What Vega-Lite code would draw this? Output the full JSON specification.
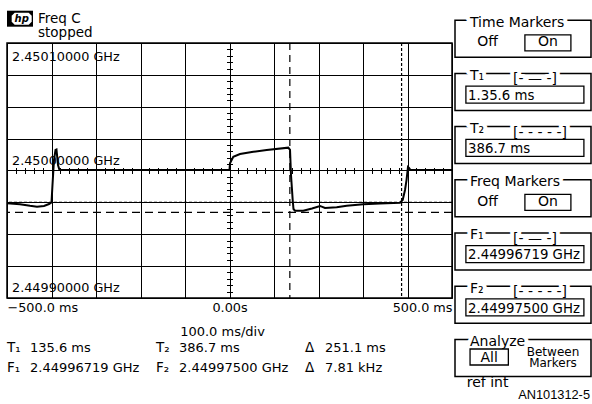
{
  "$schema": "https://vega.github.io/schema/vega-lite/v6.json",
  "padding": {"left": 2, "top": 0, "right": 0, "bottom": 0},
  "autosize": {"type": "pad"},
  "background": "white",
  "config": {
    "view": {"stroke": null},
    "font": "DejaVu Sans",
    "text": {"font": "DejaVu Sans", "color": "black"},
    "axis": {"labelFont": "DejaVu Sans", "titleFont": "DejaVu Sans", "labelColor": "black", "titleColor": "black", "minExtent": 0, "maxExtent": 0}
  },
  "bounds": "flush",
  "spacing": 10,
  "vconcat": [
    {
      "width": 445,
      "height": 33,
      "layer": [
        {
          "data": {"values": [{"logo": "hp"}]},
          "mark": {"type": "point", "shape": "M-1,-0.615L1,-0.615L1,0.615L-1,0.615Z", "size": 676, "filled": true, "color": "black", "opacity": 1, "xOffset": -209.5, "yOffset": 2.2},
          "encoding": {}
        },
        {
          "data": {"values": [{"logo": "hp"}]},
          "mark": {"type": "point", "shape": "M-0.7,-0.6L0.7,-0.6L1,-0.3L1,0.3L0.7,0.6L-0.7,0.6L-1,0.3L-1,-0.3Z", "size": 400, "filled": true, "color": "white", "opacity": 1, "xOffset": -207.8, "yOffset": 2.2},
          "encoding": {}
        },
        {
          "data": {"values": [{"logo": "hp"}]},
          "mark": {"type": "text", "text": "hp", "fontStyle": "italic", "fontWeight": "bold", "fontSize": 10, "align": "center", "baseline": "alphabetic", "dx": -207.8, "dy": 5.8, "color": "black"},
          "encoding": {}
        },
        {
          "data": {"values": [{"line": "Freq C"}, {"line": "stopped"}]},
          "mark": {"type": "text", "align": "left", "baseline": "alphabetic", "dx": -191.5, "fontSize": 13.5},
          "encoding": {
            "y": {"field": "line", "type": "nominal", "scale": {"type": "point", "domain": ["Freq C", "stopped"], "range": [22.7, 36.7], "padding": 0}, "axis": null},
            "text": {"field": "line"}
          }
        }
      ]
    },
    {
      "bounds": "flush",
      "spacing": 3,
      "hconcat": [
        {
          "width": 445,
          "height": 255,
          "view": {"stroke": "black", "strokeWidth": 1.5},
          "resolve": {"axis": {"x": "independent", "y": "independent"}},
          "layer": [
            {
              "data": {"values": [{"marker": "T1", "t": 135.6}, {"marker": "T2", "t": 386.7}]},
              "mark": {"type": "rule", "color": "black", "strokeWidth": 1.2},
              "encoding": {
                "x": {
                  "field": "t", "type": "quantitative",
                  "scale": {"domain": [-500, 500], "nice": false, "zero": false},
                  "axis": {"orient": "bottom", "offset": -130.5, "values": [-480,-460,-440,-420,-380,-360,-340,-320,-280,-260,-240,-220,-180,-160,-140,-120,-80,-60,-40,-20,20,40,60,80,120,140,160,180,220,240,260,280,320,340,360,380,420,440,460,480], "labels": false, "domain": false, "grid": false, "ticks": true, "tickSize": 6, "tickColor": "black", "tickWidth": 1, "title": null}
                },
                "strokeDash": {"field": "marker", "type": "nominal", "scale": {"domain": ["T1", "T2", "F1", "F2"], "range": [[7, 5], [3, 2], [8, 5], [3, 2]]}, "legend": null}
              }
            },
            {
              "data": {"values": [{"marker": "F1", "f": 2.44996719}, {"marker": "F2", "f": 2.449975}]},
              "mark": {"type": "rule", "color": "black", "strokeWidth": 1.2},
              "encoding": {
                "y": {
                  "field": "f", "type": "quantitative",
                  "scale": {"domain": [2.4499, 2.4501], "nice": false, "zero": false},
                  "axis": {"orient": "left", "offset": -225.5, "values": [2.449905,2.44991,2.449915,2.44992,2.44993,2.449935,2.44994,2.449945,2.449955,2.44996,2.449965,2.44997,2.44998,2.449985,2.44999,2.449995,2.450005,2.45001,2.450015,2.45002,2.45003,2.450035,2.45004,2.450045,2.450055,2.45006,2.450065,2.45007,2.45008,2.450085,2.45009,2.450095], "labels": false, "domain": false, "grid": false, "ticks": true, "tickSize": 6, "tickColor": "black", "tickWidth": 1, "title": null}
                },
                "strokeDash": {"field": "marker", "type": "nominal", "legend": null}
              }
            },
            {
              "data": {"values": [{"f": 2.4501, "label": "2.45010000 GHz"}, {"f": 2.45, "label": "2.45000000 GHz"}, {"f": 2.4499, "label": "2.44990000 GHz"}]},
              "transform": [{"filter": "datum.f > 2.45005"}],
              "mark": {"type": "text", "align": "left", "baseline": "alphabetic", "dx": 5, "dy": 17.7, "fontSize": 12.8},
              "encoding": {
                "x": {"datum": -500, "type": "quantitative", "axis": null},
                "y": {"field": "f", "type": "quantitative", "axis": null},
                "text": {"field": "label"}
              }
            },
            {
              "data": {"values": [{"f": 2.4501, "label": "2.45010000 GHz"}, {"f": 2.45, "label": "2.45000000 GHz"}, {"f": 2.4499, "label": "2.44990000 GHz"}]},
              "transform": [{"filter": "datum.f < 2.45005"}],
              "mark": {"type": "text", "align": "left", "baseline": "alphabetic", "dx": 5, "dy": -6, "fontSize": 12.8},
              "encoding": {
                "x": {"datum": -500, "type": "quantitative", "axis": null},
                "y": {"field": "f", "type": "quantitative", "axis": null},
                "text": {"field": "label"}
              }
            },
            {
              "data": {"values": [
                {"t": -500, "f": 2.4499743}, {"t": -470.8, "f": 2.4499735}, {"t": -448.3, "f": 2.4499723},
                {"t": -432.6, "f": 2.4499716}, {"t": -416.9, "f": 2.4499722}, {"t": -405.6, "f": 2.4499737},
                {"t": -400, "f": 2.4499749}, {"t": -397.8, "f": 2.4499886}, {"t": -394.4, "f": 2.4500082},
                {"t": -391, "f": 2.4500161}, {"t": -388.8, "f": 2.4500165}, {"t": -385.4, "f": 2.4500043},
                {"t": -382, "f": 2.4500003}, {"t": 0, "f": 2.4500003}, {"t": 1.1, "f": 2.4500056},
                {"t": 8.5, "f": 2.4500108}, {"t": 23.6, "f": 2.4500129}, {"t": 53.5, "f": 2.4500147},
                {"t": 83.6, "f": 2.4500161}, {"t": 132.1, "f": 2.4500179}, {"t": 136, "f": 2.4500161},
                {"t": 138.2, "f": 2.4499965}, {"t": 142, "f": 2.4499769}, {"t": 143.8, "f": 2.4499698},
                {"t": 147.2, "f": 2.4499685}, {"t": 165.8, "f": 2.4499685}, {"t": 185.4, "f": 2.4499702},
                {"t": 203.4, "f": 2.4499722}, {"t": 214.6, "f": 2.4499706}, {"t": 240.9, "f": 2.4499711},
                {"t": 263.4, "f": 2.4499724}, {"t": 300.7, "f": 2.4499735}, {"t": 338.2, "f": 2.4499741},
                {"t": 383.1, "f": 2.4499747}, {"t": 389.2, "f": 2.4499769}, {"t": 394.4, "f": 2.4499847},
                {"t": 397.8, "f": 2.4499925}, {"t": 401.1, "f": 2.4500027}, {"t": 403.4, "f": 2.450002},
                {"t": 406.7, "f": 2.4500003}, {"t": 500, "f": 2.4500003}
              ]},
              "mark": {"type": "line", "color": "black", "strokeWidth": 2},
              "encoding": {
                "x": {
                  "field": "t", "type": "quantitative",
                  "axis": {"orient": "bottom", "values": [-500,-400,-300,-200,-100,0,100,200,300,400,500], "grid": true, "gridColor": "black", "gridWidth": 1, "gridOpacity": 1, "ticks": false, "tickSize": 0, "domain": false, "labelExpr": "datum.value == -500 ? '−500.0 ms' : (datum.value == 0 ? '0.00s' : (datum.value == 500 ? '500.0 ms' : ''))", "labelFlush": true, "labelOverlap": false, "labelFontSize": 12.8, "labelPadding": 3, "title": "100.0 ms/div", "titleFontSize": 13, "titleFontWeight": "normal", "titleX": 215, "titleY": 37, "titleBaseline": "alphabetic", "titleAlign": "center", "titleAnchor": null}
                },
                "y": {
                  "field": "f", "type": "quantitative",
                  "axis": {"orient": "left", "values": [2.4499,2.449925,2.44995,2.449975,2.45,2.450025,2.45005,2.450075,2.4501], "grid": true, "gridColor": "black", "gridWidth": 1, "gridOpacity": 1, "labels": false, "ticks": false, "tickSize": 0, "labelPadding": 0, "domain": false, "title": null}
                }
              }
            }
          ]
        },
        {
          "width": 136,
          "height": 255,
          "data": {"values": [
            {"panel": "TM", "title": "Time Markers", "kind": "switch"},
            {"panel": "T1", "title": "T₁", "kind": "value", "bracket": "[-  —  -]", "value": "1.35.6 ms"},
            {"panel": "T2", "title": "T₂", "kind": "value", "bracket": "[- - - - -]", "value": "386.7 ms"},
            {"panel": "FM", "title": "Freq Markers", "kind": "switch"},
            {"panel": "F1", "title": "F₁", "kind": "value", "bracket": "[-  —  -]", "value": "2.44996719 GHz"},
            {"panel": "F2", "title": "F₂", "kind": "value", "bracket": "[- - - - -]", "value": "2.44997500 GHz"},
            {"panel": "AN", "title": "Analyze", "kind": "analyze"}
          ]},
          "layer": [
            {
              "mark": {"type": "rect", "fill": "white", "stroke": "black", "strokeWidth": 1.5},
              "encoding": {"y": {"field": "panel", "type": "nominal", "scale": {"type": "band", "domain": ["TM", "T1", "T2", "FM", "F1", "F2", "AN"], "range": [-22.8, 333.4], "paddingInner": 0.3045, "paddingOuter": 0}, "axis": null}}
            },
            {
              "mark": {"type": "text", "align": "left", "baseline": "alphabetic", "dx": -53, "dy": 6.5, "fontSize": 14, "fill": "white", "stroke": "white", "strokeWidth": 8, "strokeJoin": "round"},
              "encoding": {"y": {"field": "panel", "type": "nominal", "bandPosition": 0, "axis": null}, "text": {"field": "title"}}
            },
            {
              "mark": {"type": "text", "align": "left", "baseline": "alphabetic", "dx": -53, "dy": 6.5, "fontSize": 14},
              "encoding": {"y": {"field": "panel", "type": "nominal", "bandPosition": 0, "axis": null}, "text": {"field": "title"}}
            },
            {
              "transform": [{"filter": "datum.kind == 'value'"}],
              "mark": {"type": "text", "align": "left", "baseline": "alphabetic", "dx": -10, "dy": 10, "fontSize": 14, "fill": "white", "stroke": "white", "strokeWidth": 8, "strokeJoin": "round"},
              "encoding": {"y": {"field": "panel", "type": "nominal", "bandPosition": 0, "axis": null}, "text": {"field": "bracket"}}
            },
            {
              "transform": [{"filter": "datum.kind == 'value'"}],
              "mark": {"type": "text", "align": "left", "baseline": "alphabetic", "dx": -10, "dy": 10, "fontSize": 14},
              "encoding": {"y": {"field": "panel", "type": "nominal", "bandPosition": 0, "axis": null}, "text": {"field": "bracket"}}
            },
            {
              "transform": [{"filter": "datum.kind == 'value'"}],
              "mark": {"type": "point", "shape": "M-1,-0.144L1,-0.144L1,0.144L-1,0.144Z", "size": 13924, "filled": false, "color": "black", "strokeWidth": 1.3, "opacity": 1, "xOffset": 1.9, "yOffset": 21.2},
              "encoding": {"y": {"field": "panel", "type": "nominal", "bandPosition": 0, "axis": null}}
            },
            {
              "transform": [{"filter": "datum.kind == 'value'"}],
              "mark": {"type": "text", "align": "left", "baseline": "alphabetic", "dx": -55, "dy": 26.4, "fontSize": 13.3},
              "encoding": {"y": {"field": "panel", "type": "nominal", "bandPosition": 0, "axis": null}, "text": {"field": "value"}}
            },
            {
              "transform": [{"filter": "datum.kind == 'switch'"}],
              "mark": {"type": "text", "text": "Off", "align": "center", "baseline": "alphabetic", "dx": -35.5, "dy": 25.8, "fontSize": 14},
              "encoding": {"y": {"field": "panel", "type": "nominal", "bandPosition": 0, "axis": null}}
            },
            {
              "transform": [{"filter": "datum.kind == 'switch'"}],
              "mark": {"type": "point", "shape": "M-1,-0.348L1,-0.348L1,0.348L-1,0.348Z", "size": 2116, "filled": false, "color": "black", "strokeWidth": 1.3, "opacity": 1, "xOffset": 24.9, "yOffset": 22.6},
              "encoding": {"y": {"field": "panel", "type": "nominal", "bandPosition": 0, "axis": null}}
            },
            {
              "transform": [{"filter": "datum.kind == 'switch'"}],
              "mark": {"type": "text", "text": "On", "align": "center", "baseline": "alphabetic", "dx": 24.9, "dy": 25.8, "fontSize": 14},
              "encoding": {"y": {"field": "panel", "type": "nominal", "bandPosition": 0, "axis": null}}
            },
            {
              "transform": [{"filter": "datum.kind == 'analyze'"}],
              "mark": {"type": "point", "shape": "M-1,-0.418L1,-0.418L1,0.418L-1,0.418Z", "size": 1467, "filled": false, "color": "black", "strokeWidth": 1.3, "opacity": 1, "xOffset": -33.8, "yOffset": 17.6},
              "encoding": {"y": {"field": "panel", "type": "nominal", "bandPosition": 0, "axis": null}}
            },
            {
              "transform": [{"filter": "datum.kind == 'analyze'"}],
              "mark": {"type": "text", "text": "All", "align": "center", "baseline": "alphabetic", "dx": -33.8, "dy": 22.3, "fontSize": 14},
              "encoding": {"y": {"field": "panel", "type": "nominal", "bandPosition": 0, "axis": null}}
            },
            {
              "transform": [{"filter": "datum.kind == 'analyze'"}],
              "mark": {"type": "text", "text": ["Between", "Markers"], "lineHeight": 11, "align": "center", "baseline": "alphabetic", "dx": 30, "dy": 17, "fontSize": 12},
              "encoding": {"y": {"field": "panel", "type": "nominal", "bandPosition": 0, "axis": null}}
            },
            {
              "transform": [{"filter": "datum.kind == 'analyze'"}],
              "mark": {"type": "text", "text": "ref int", "align": "left", "baseline": "alphabetic", "dx": -56.3, "dy": 47.3, "fontSize": 14},
              "encoding": {"y": {"field": "panel", "type": "nominal", "bandPosition": 0, "axis": null}}
            },
            {
              "transform": [{"filter": "datum.kind == 'analyze'"}],
              "mark": {"type": "text", "text": "AN101312-5", "align": "right", "baseline": "alphabetic", "dx": 67, "dy": 60, "fontSize": 12.8, "font": "Liberation Sans"},
              "encoding": {"y": {"field": "panel", "type": "nominal", "bandPosition": 0, "axis": null}}
            }
          ]
        }
      ]
    },
    {
      "width": 445,
      "height": 80,
      "data": {"values": [
        {"row": "T", "col": "1", "label": "T₁", "value": "135.6 ms"},
        {"row": "T", "col": "2", "label": "T₂", "value": "386.7 ms"},
        {"row": "T", "col": "Δ", "label": "Δ", "value": "251.1 ms"},
        {"row": "F", "col": "1", "label": "F₁", "value": "2.44996719 GHz"},
        {"row": "F", "col": "2", "label": "F₂", "value": "2.44997500 GHz"},
        {"row": "F", "col": "Δ", "label": "Δ", "value": "7.81 kHz"}
      ]},
      "encoding": {
        "x": {"field": "col", "type": "nominal", "scale": {"type": "point", "domain": ["1", "2", "Δ"], "range": [0, 298], "padding": 0}, "axis": null},
        "y": {"field": "row", "type": "nominal", "scale": {"type": "point", "domain": ["T", "F"], "range": [298.7, 318.7], "padding": 0}, "axis": null}
      },
      "layer": [
        {"mark": {"type": "text", "align": "left", "baseline": "alphabetic", "fontSize": 13.5}, "encoding": {"text": {"field": "label"}}},
        {"transform": [{"filter": "datum.col != 'Δ'"}], "mark": {"type": "text", "align": "left", "baseline": "alphabetic", "fontSize": 13, "dx": 23}, "encoding": {"text": {"field": "value"}}},
        {"transform": [{"filter": "datum.col == 'Δ'"}], "mark": {"type": "text", "align": "left", "baseline": "alphabetic", "fontSize": 13, "dx": 20}, "encoding": {"text": {"field": "value"}}}
      ]
    }
  ]
}
